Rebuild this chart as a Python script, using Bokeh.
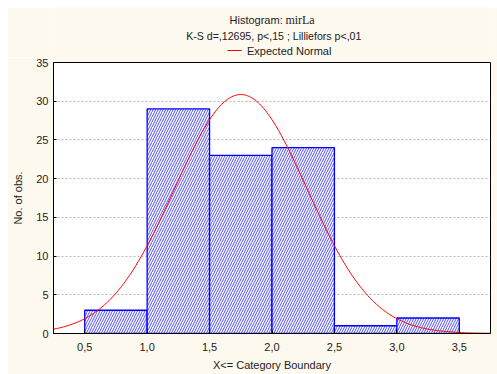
import numpy as np
from bokeh.plotting import figure
from bokeh.layouts import column
from bokeh.models import FixedTicker, Range1d
from bokeh.core.properties import value
from bokeh.embed import file_html
from bokeh.resources import INLINE

# data
bin_left = [0.5, 1.0, 1.5, 2.0, 2.5, 3.0]
bin_right = [1.0, 1.5, 2.0, 2.5, 3.0, 3.5]
counts = [3, 29, 23, 24, 1, 2]
x_ticks = [0.5, 1.0, 1.5, 2.0, 2.5, 3.0, 3.5]
x_tick_labels = ["0,5", "1,0", "1,5", "2,0", "2,5", "3,0", "3,5"]
y_ticks = [0, 5, 10, 15, 20, 25, 30, 35]
n_obs = 82
bin_width = 0.5
fit_mean = 1.75
fit_sd = 0.53
title_1a = "Histogram:"
title_1b = "mirLa"
title_2 = "K-S d=,12695, p<,15 ; Lilliefors p<,01"
legend_label = "Expected Normal"

FONT = "Liberation Sans"
BG = "#fdf9ee"
TXT = "#222222"
W = 490
H = 367
HEAD_H = 50

# ---------- header (titles + legend) ----------
h = figure(width=W, height=HEAD_H, output_backend="svg", toolbar_location=None,
           x_range=Range1d(0, W), y_range=Range1d(HEAD_H, 0),
           min_border=0)
h.axis.visible = False
h.grid.visible = False
h.outline_line_color = None
h.background_fill_color = BG
h.border_fill_color = BG
h.text(x=[257], y=[12], text=[title_1a], text_align="right", text_baseline="middle",
       text_font=value(FONT), text_font_size="11px", text_color=TXT)
h.text(x=[260], y=[12], text=[title_1b], text_align="left", text_baseline="middle",
       text_font=value("Liberation Serif"), text_font_size="12px", text_color=TXT)
h.text(x=[247], y=[28], text=[title_2], text_align="center", text_baseline="middle",
       text_font=value(FONT), text_font_size="10.6px", text_color=TXT)
h.line(x=[195, 211], y=[43, 43], line_color="#ff0000", line_width=1)
h.text(x=[217], y=[43], text=[legend_label], text_align="left", text_baseline="middle",
       text_font=value(FONT), text_font_size="11px", text_color=TXT)

# ---------- main plot ----------
p = figure(width=W, height=H - HEAD_H, output_backend="svg", toolbar_location=None,
           x_range=Range1d(0.25, 3.75), y_range=Range1d(0, 35),
           min_border_left=46, min_border_right=7, min_border_top=55 - HEAD_H, min_border_bottom=41)
p.background_fill_color = "white"
p.border_fill_color = BG
p.outline_line_color = "black"
p.outline_line_width = 1

p.quad(left=bin_left, right=bin_right, bottom=0, top=counts,
       fill_color="white", line_color="#0000ff", line_width=1.3,
       hatch_pattern="/", hatch_color="#3a3aff", hatch_scale=5, hatch_weight=0.9)

xs = np.linspace(0.25, 3.75, 300)
ys = n_obs * bin_width / (fit_sd * np.sqrt(2 * np.pi)) * np.exp(-0.5 * ((xs - fit_mean) / fit_sd) ** 2)
p.line(xs, ys, line_color="#ff0000", line_width=1)

p.xaxis.ticker = FixedTicker(ticks=x_ticks)
p.xaxis.major_label_overrides = {t: l for t, l in zip(x_ticks, x_tick_labels)}
p.yaxis.ticker = FixedTicker(ticks=y_ticks)
for ax in (p.xaxis, p.yaxis):
    ax.major_label_text_font = FONT
    ax.major_label_text_font_size = "11px"
    ax.major_label_text_color = TXT
    ax.axis_label_text_font = FONT
    ax.axis_label_text_font_size = "11px"
    ax.axis_label_text_font_style = "normal"
    ax.axis_label_text_color = TXT
    ax.major_tick_out = 0
    ax.major_tick_in = 3
    ax.minor_tick_out = 0
    ax.minor_tick_in = 0
    ax.axis_line_color = "black"
p.xaxis.axis_label = "X<= Category Boundary"
p.yaxis.axis_label = "No. of obs."
p.xaxis.major_label_standoff = 9
p.yaxis.major_label_standoff = 5
p.xaxis.axis_label_standoff = 5
p.yaxis.axis_label_standoff = 9

p.xgrid.grid_line_color = None
p.ygrid.grid_line_color = "#b4b4b4"
p.ygrid.grid_line_dash = "2 2"

layout = column(h, p, spacing=0, margin=(7, 0, 0, 7))
open("out.html", "w").write(file_html(layout, INLINE))
